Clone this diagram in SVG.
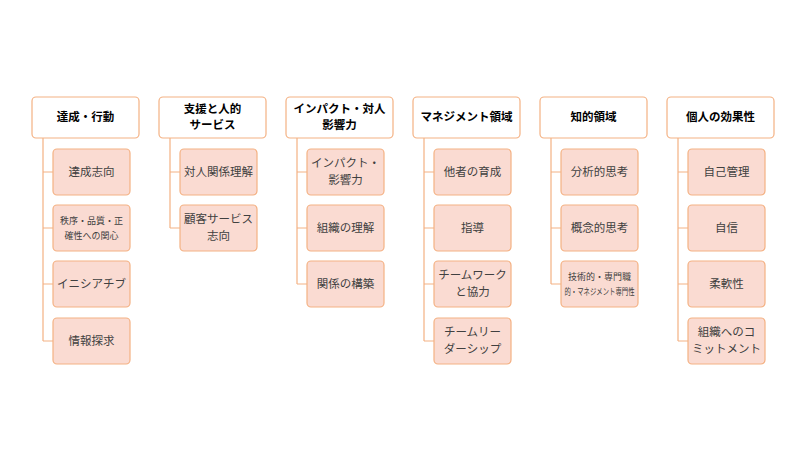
<svg xmlns="http://www.w3.org/2000/svg" width="800" height="450" viewBox="0 0 800 450">
<style>
.h{fill:#fff;stroke:#F4B183;stroke-width:1.2}
.c{fill:#FADBD2;stroke:#F4B183;stroke-width:1.2}
.ht{font-family:"Noto Sans CJK JP","Noto Sans",sans-serif;font-size:11.5px;font-weight:bold;fill:#000;text-anchor:middle}
.ct{font-family:"Noto Sans CJK JP","Noto Sans",sans-serif;font-size:11.5px;fill:#404040;text-anchor:middle}
.st{font-size:9px}
.ln{stroke:#F4B183;stroke-width:1.2;fill:none}
</style>
<rect width="800" height="450" fill="#fff"/>
<g id="connectors">
<path class="ln" d="M43 138V341M43 172H53M43 228H53M43 284H53M43 341H53"/>
<path class="ln" d="M170 138V228M170 172H180M170 228H180"/>
<path class="ln" d="M297 138V284M297 172H307M297 228H307M297 284H307"/>
<path class="ln" d="M424 138V341M424 172H434M424 228H434M424 284H434M424 341H434"/>
<path class="ln" d="M551 138V284M551 172H561M551 228H561M551 284H561"/>
<path class="ln" d="M678 138V341M678 172H688M678 228H688M678 284H688M678 341H688"/>
</g>
<g id="h1"><rect class="h" x="32" y="97" width="107" height="41" rx="4"/><text class="ht" x="85.5" y="121">達成・行動</text></g>
<g id="h2"><rect class="h" x="159" y="97" width="107" height="41" rx="4"/><text class="ht" x="212.5" y="113">支援と人的</text><text class="ht" x="212.5" y="129">サービス</text></g>
<g id="h3"><rect class="h" x="286" y="97" width="107" height="41" rx="4"/><text class="ht" x="339.5" y="113">インパクト・対人</text><text class="ht" x="339.5" y="129">影響力</text></g>
<g id="h4"><rect class="h" x="413" y="97" width="107" height="41" rx="4"/><text class="ht" x="466.5" y="121">マネジメント領域</text></g>
<g id="h5"><rect class="h" x="540" y="97" width="107" height="41" rx="4"/><text class="ht" x="593.5" y="121">知的領域</text></g>
<g id="h6"><rect class="h" x="667" y="97" width="107" height="41" rx="4"/><text class="ht" x="720.5" y="121">個人の効果性</text></g>

<g id="c1a"><rect class="c" x="53" y="149" width="77" height="46" rx="4"/><text class="ct" x="91.5" y="176">達成志向</text></g>
<g id="c1b"><rect class="c" x="53" y="205" width="77" height="46" rx="4"/><text class="ct st" x="91.5" y="224">秩序・品質・正</text><text class="ct st" x="91.5" y="239">確性への関心</text></g>
<g id="c1c"><rect class="c" x="53" y="261" width="77" height="46" rx="4"/><text class="ct" x="91.5" y="288">イニシアチブ</text></g>
<g id="c1d"><rect class="c" x="53" y="318" width="77" height="46" rx="4"/><text class="ct" x="91.5" y="345">情報探求</text></g>

<g id="c2a"><rect class="c" x="180" y="149" width="77" height="46" rx="4"/><text class="ct" x="218.5" y="176">対人関係理解</text></g>
<g id="c2b"><rect class="c" x="180" y="205" width="77" height="46" rx="4"/><text class="ct" x="218.5" y="223">顧客サービス</text><text class="ct" x="218.5" y="240">志向</text></g>

<g id="c3a"><rect class="c" x="307" y="149" width="77" height="46" rx="4"/><text class="ct" x="345.5" y="167">インパクト・</text><text class="ct" x="345.5" y="184">影響力</text></g>
<g id="c3b"><rect class="c" x="307" y="205" width="77" height="46" rx="4"/><text class="ct" x="345.5" y="232">組織の理解</text></g>
<g id="c3c"><rect class="c" x="307" y="261" width="77" height="46" rx="4"/><text class="ct" x="345.5" y="288">関係の構築</text></g>

<g id="c4a"><rect class="c" x="434" y="149" width="77" height="46" rx="4"/><text class="ct" x="472.5" y="176">他者の育成</text></g>
<g id="c4b"><rect class="c" x="434" y="205" width="77" height="46" rx="4"/><text class="ct" x="472.5" y="232">指導</text></g>
<g id="c4c"><rect class="c" x="434" y="261" width="77" height="46" rx="4"/><text class="ct" x="472.5" y="279">チームワーク</text><text class="ct" x="472.5" y="296">と協力</text></g>
<g id="c4d"><rect class="c" x="434" y="318" width="77" height="46" rx="4"/><text class="ct" x="472.5" y="336">チームリー</text><text class="ct" x="472.5" y="353">ダーシップ</text></g>

<g id="c5a"><rect class="c" x="561" y="149" width="77" height="46" rx="4"/><text class="ct" x="599.5" y="176">分析的思考</text></g>
<g id="c5b"><rect class="c" x="561" y="205" width="77" height="46" rx="4"/><text class="ct" x="599.5" y="232">概念的思考</text></g>
<g id="c5c"><rect class="c" x="561" y="261" width="77" height="46" rx="4"/><text class="ct st" x="599.5" y="280">技術的・専門職</text><text class="ct st" x="599.5" y="295" textLength="70" lengthAdjust="spacingAndGlyphs">的・マネジメント専門性</text></g>

<g id="c6a"><rect class="c" x="688" y="149" width="77" height="46" rx="4"/><text class="ct" x="726.5" y="176">自己管理</text></g>
<g id="c6b"><rect class="c" x="688" y="205" width="77" height="46" rx="4"/><text class="ct" x="726.5" y="232">自信</text></g>
<g id="c6c"><rect class="c" x="688" y="261" width="77" height="46" rx="4"/><text class="ct" x="726.5" y="288">柔軟性</text></g>
<g id="c6d"><rect class="c" x="688" y="318" width="77" height="46" rx="4"/><text class="ct" x="726.5" y="336">組織へのコ</text><text class="ct" x="726.5" y="353">ミットメント</text></g>
</svg>
